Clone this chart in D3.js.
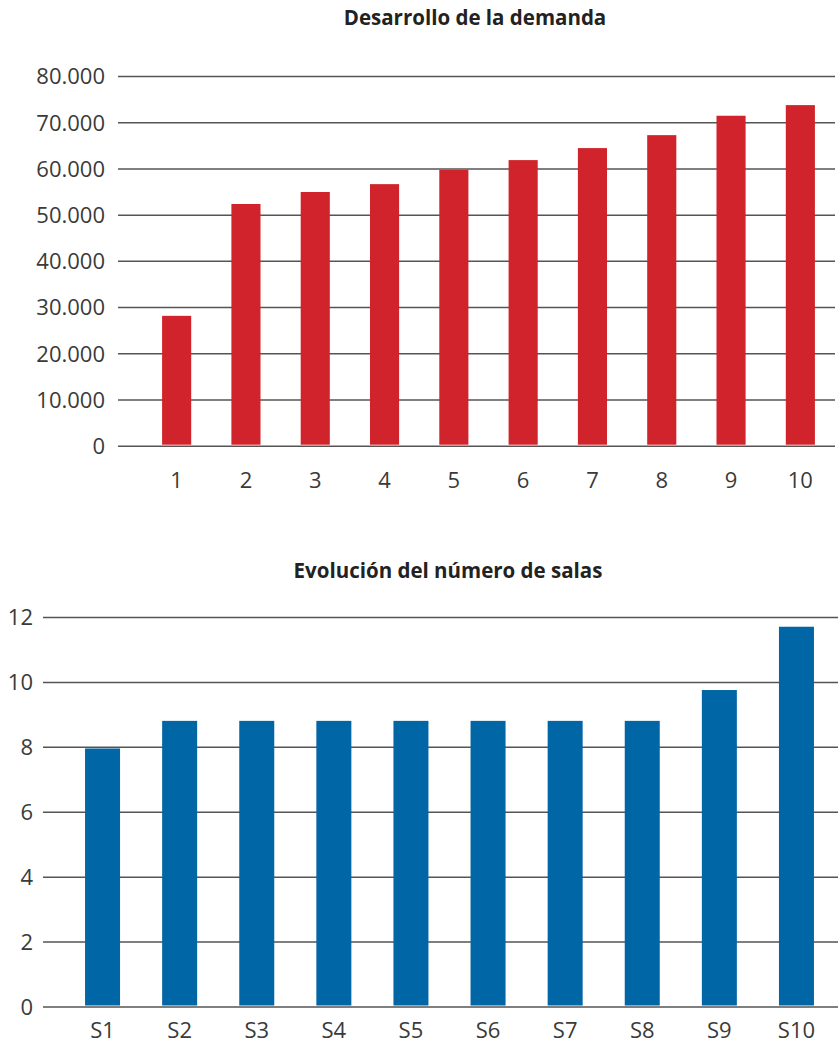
<!DOCTYPE html>
<html>
<head>
<meta charset="utf-8">
<script src="https://cdn.jsdelivr.net/npm/d3@7"></script>
<style>
  body { margin: 0; background: #fff; }
  text { font-family: "Open Sans", "Noto Sans", sans-serif; fill: #3a3a3a; }
  .title { font-weight: bold; font-size: 20.5px; fill: #222; }
  .tick text { font-size: 22px; }
</style>
</head>
<body>
<svg id="chart" width="838" height="1043"></svg>
<script>
// demanda
var demandaCats = ["1", "2", "3", "4", "5", "6", "7", "8", "9", "10"];
var demandaVals = [28100, 52300, 54900, 56600, 59700, 61800, 64400, 67200, 71400, 73700];
var demandaTicks = [0, 10000, 20000, 30000, 40000, 50000, 60000, 70000, 80000];

// salas
var salasCats = ["S1", "S2", "S3", "S4", "S5", "S6", "S7", "S8", "S9", "S10"];
var salasVals = [7.95, 8.8, 8.8, 8.8, 8.8, 8.8, 8.8, 8.8, 9.75, 11.7];
var salasTicks = [0, 2, 4, 6, 8, 10, 12];

var svg = d3.select("#chart");
var fmt = d3.formatLocale({ decimal: ",", thousands: ".", grouping: [3], currency: ["", "€"] }).format(",d");

function drawChart(opts) {
  var g = svg.append("g");
  var x = d3.scaleBand().domain(opts.cats).range(opts.barRange)
      .paddingInner(opts.padIn).paddingOuter(opts.padIn / 2);
  var y = d3.scaleLinear().domain([0, opts.ticks[opts.ticks.length - 1]]).range(opts.yRange);

  g.append("text").attr("class", "title")
      .attr("x", opts.titleX).attr("y", opts.titleY)
      .attr("text-anchor", "middle").text(opts.title);

  // y axis with gridlines
  var yAxis = g.append("g").attr("transform", "translate(" + opts.gridX[0] + ",0)")
      .call(d3.axisLeft(y).tickValues(opts.ticks).tickFormat(opts.fmt)
        .tickSize(-(opts.gridX[1] - opts.gridX[0])).tickPadding(opts.tickPad));
  yAxis.select(".domain").remove();
  yAxis.selectAll(".tick line").attr("stroke", "#555").attr("stroke-width", 1.5);
  yAxis.selectAll(".tick text").attr("dy", "0.36em");

  g.selectAll("rect.bar").data(opts.vals).enter().append("rect")
      .attr("class", "bar")
      .attr("x", function(d, i) { return x(opts.cats[i]); })
      .attr("width", x.bandwidth())
      .attr("y", function(d) { return y(d); })
      .attr("height", function(d) { return y(0) - y(d) - 1; })
      .attr("fill", opts.color);

  var xAxis = g.append("g").attr("transform", "translate(0," + y(0) + ")")
      .call(d3.axisBottom(x).tickSize(0).tickPadding(opts.xPad));
  xAxis.select(".domain").remove();
}

drawChart({
  cats: demandaCats, vals: demandaVals, ticks: demandaTicks,
  fmt: function(d) { return fmt(d); },
  title: "Desarrollo de la demanda", titleX: 475, titleY: 25,
  barRange: [142, 835], padIn: 0.58,
  yRange: [445.7, 76], gridX: [118, 835], tickPad: 13, xPad: 27,
  color: "#d0232b"
});

drawChart({
  cats: salasCats, vals: salasVals, ticks: salasTicks,
  fmt: function(d) { return d; },
  title: "Evolución del número de salas", titleX: 448, titleY: 578,
  barRange: [64, 835], padIn: 0.546,
  yRange: [1006.5, 617], gridX: [43, 838], tickPad: 10, xPad: 16,
  color: "#0066a6"
});
</script>
</body>
</html>
